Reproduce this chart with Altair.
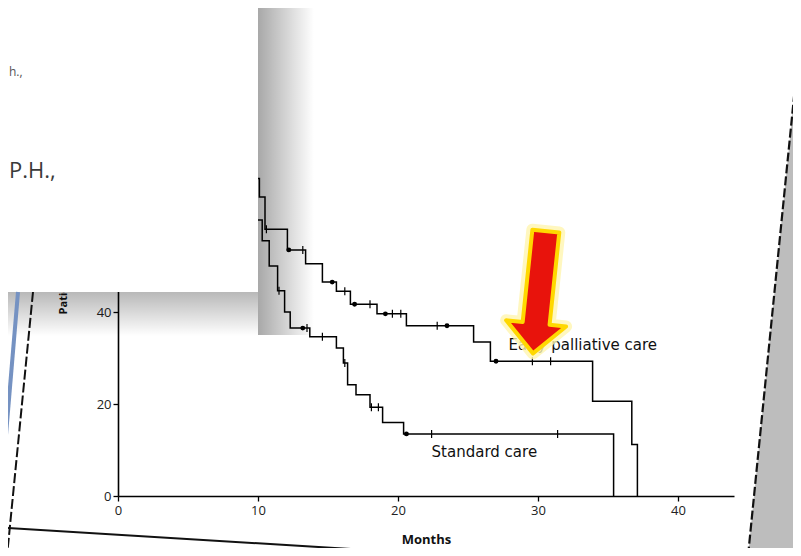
import altair as alt
import pandas as pd

# ---- Kaplan-Meier step points (month, % alive) ----
early_month = [0, 1.4, 2.3, 3.1, 4.0, 4.8, 5.7, 6.5, 7.4, 8.2, 9.0, 9.6, 10.1, 10.5,
               12.1, 13.4, 14.6, 15.6, 16.6, 18.5, 20.6, 25.4, 26.6, 33.9, 36.7, 37.1]
early_pct = [100, 98, 96, 93, 91, 88, 85, 82, 79, 75, 72, 69, 65, 58,
             53.5, 50.5, 46.5, 44.5, 41.7, 39.6, 37.0, 33.5, 29.3, 20.6, 11.2, 0]

standard_month = [0, 0.8, 1.6, 2.4, 3.2, 4.0, 4.8, 5.6, 6.4, 7.2, 8.0, 8.8, 9.5, 10.3,
                  10.8, 11.4, 11.9, 12.3, 13.7, 15.6, 16.1, 16.4, 17.0, 18.0, 18.9, 20.4, 35.4]
standard_pct = [100, 98, 95, 93, 90, 87, 84, 80, 76, 72, 68, 64, 60, 55.5,
                50, 44.6, 40, 36.5, 34.6, 32.2, 28.9, 24.2, 22.0, 19.3, 16.0, 13.5, 0]

# censored observations
early_tick_month = [10.6, 13.2, 16.2, 18.0, 19.6, 20.2, 22.8, 29.6, 30.9]
early_tick_pct = [58, 53.5, 44.5, 41.7, 39.6, 39.6, 37.0, 29.3, 29.3]
early_dot_month = [12.2, 15.3, 16.9, 19.1, 23.5, 27.0]
early_dot_pct = [53.5, 46.5, 41.7, 39.6, 37.0, 29.3]

standard_tick_month = [11.5, 13.5, 14.6, 16.2, 18.1, 18.6, 22.4, 31.4]
standard_tick_pct = [44.6, 36.5, 34.6, 28.9, 19.3, 19.3, 13.5, 13.5]
standard_dot_month = [13.2, 20.6]
standard_dot_pct = [36.5, 13.5]

group_labels = ["Early palliative care", "Standard care"]
label_month = [27.9, 22.4]
label_pct = [32.8, 9.6]

arrow_month = [30.1]
arrow_pct = [44.3]

x_ticks = [0, 10, 20, 30, 40]
y_ticks = [0, 20, 40, 60, 80, 100]

FONT = "Open Sans"
LABEL_FONT = "DejaVu Sans"

curves = pd.concat([
    pd.DataFrame({"month": early_month, "pct": early_pct, "group": group_labels[0]}),
    pd.DataFrame({"month": standard_month, "pct": standard_pct, "group": group_labels[1]}),
])
ticks = pd.DataFrame({"month": early_tick_month + standard_tick_month,
                      "pct": early_tick_pct + standard_tick_pct})
dots = pd.DataFrame({"month": early_dot_month + standard_dot_month,
                     "pct": early_dot_pct + standard_dot_pct})
labels = pd.DataFrame({"month": label_month, "pct": label_pct, "text": group_labels})
arrow = pd.DataFrame({"month": arrow_month, "pct": arrow_pct})
one = pd.DataFrame({"k": [0]})

xscale = alt.Scale(domain=[0, 44], nice=False)
yscale = alt.Scale(domain=[0, 100], nice=False)

xaxis = alt.Axis(values=x_ticks, title="Months", grid=False, labelFlush=False,
                 tickSize=5, tickWidth=1.3, tickColor="black", domainColor="black",
                 domainWidth=1.6, labelFontSize=13, labelColor="#222", labelFont=FONT,
                 titleFont=FONT, titleFontSize=13, titleFontWeight="bold",
                 titleColor="#111", titlePadding=16, labelPadding=3)
yaxis = alt.Axis(values=y_ticks, title="Patients Alive (%)", grid=False,
                 tickSize=5, tickWidth=1.3, tickColor="black", domainColor="black",
                 domainWidth=1.6, labelFontSize=13, labelColor="#222", labelFont=FONT,
                 titleFont=FONT, titleFontSize=11, titleFontWeight="bold",
                 titleColor="#111", titlePadding=20, labelPadding=2)

X = alt.X("month:Q", scale=xscale, axis=xaxis)
Y = alt.Y("pct:Q", scale=yscale, axis=yaxis)

line = alt.Chart(curves).mark_line(interpolate="step-after", color="black",
                                   strokeWidth=1.5).encode(x=X, y=Y, detail="group:N")
cens = alt.Chart(ticks).mark_tick(orient="vertical", size=8, thickness=1.2,
                                  color="black", opacity=1).encode(x="month:Q", y="pct:Q")
dot = alt.Chart(dots).mark_circle(size=24, color="black", opacity=1).encode(
    x="month:Q", y="pct:Q")
txt = alt.Chart(labels).mark_text(align="left", baseline="middle", font=LABEL_FONT,
                                  fontSize=15, color="#111").encode(
    x="month:Q", y="pct:Q", text="text:N")

ARROW = "M -0.22 -1 L 0.22 -1 L 0.22 0.51 L 0.49 0.51 L 0 1 L -0.49 0.51 L -0.22 0.51 Z"
arrow_glow = alt.Chart(arrow).mark_point(shape=ARROW, size=15129, angle=6, filled=True,
                                         fill="#ffef80", stroke="#fff6b0", strokeWidth=12,
                                         strokeJoin="round", opacity=0.8).encode(
    x="month:Q", y="pct:Q")
arrow_main = alt.Chart(arrow).mark_point(shape=ARROW, size=15129, angle=6, filled=True,
                                         fill="#e8130c", stroke="#ffd800", strokeWidth=4,
                                         strokeJoin="round", opacity=1).encode(
    x="month:Q", y="pct:Q")

# ---- photo / overlay decorations (pixel positions, plot origin at page 118,36) ----
def grad(x2, y2, a):
    return alt.Gradient(gradient="linear", x1=0, y1=0, x2=x2, y2=y2,
                        stops=[alt.GradientStop(color=f"rgba(0,0,0,{a})", offset=0),
                               alt.GradientStop(color="rgba(0,0,0,0)", offset=1)])

shadow_right = alt.Chart(one).mark_rect(fill=grad(1, 0, 0.34)).encode(
    x=alt.value(140), x2=alt.value(196), y=alt.value(-40), y2=alt.value(299))
shadow_bottom = alt.Chart(one).mark_rect(fill=grad(0, 1, 0.28)).encode(
    x=alt.value(-120), x2=alt.value(140), y=alt.value(256), y2=alt.value(300))
box = alt.Chart(one).mark_rect(fill="white").encode(
    x=alt.value(-120), x2=alt.value(140), y=alt.value(-40), y2=alt.value(256))
box_t1 = alt.Chart(one).mark_text(text="P.H.,", align="left", baseline="alphabetic",
                                  font=FONT, fontSize=22, color="#3a3a3a").encode(
    x=alt.value(-109), y=alt.value(142))
box_t2 = alt.Chart(one).mark_text(text="h.,", align="left", baseline="alphabetic",
                                  font=FONT, fontSize=12, color="#555").encode(
    x=alt.value(-109), y=alt.value(40))

RIGHT = "M -0.008 -0.996 L 0.24 -0.996 L 0.24 1 L -0.208 1 Z"
right_gray = alt.Chart(one).mark_point(shape=RIGHT, size=250000, filled=True,
                                       fill="#bdbdbd", strokeWidth=0, opacity=1).encode(
    x=alt.value(682), y=alt.value(270))
right_line = alt.Chart(one).mark_rule(color="#111", strokeWidth=2.2,
                                      strokeDash=[9, 3]).encode(
    x=alt.value(680), y=alt.value(21), x2=alt.value(630), y2=alt.value(520))
left_blue = alt.Chart(one).mark_rule(color="#7592c2", strokeWidth=4).encode(
    x=alt.value(-100), y=alt.value(256), x2=alt.value(-120), y2=alt.value(494))
left_line = alt.Chart(one).mark_rule(color="#111", strokeWidth=2,
                                     strokeDash=[10, 3]).encode(
    x=alt.value(-85), y=alt.value(256), x2=alt.value(-111), y2=alt.value(520))
bottom_line = alt.Chart(one).mark_rule(color="#111", strokeWidth=2).encode(
    x=alt.value(-110), y=alt.value(492), x2=alt.value(282), y2=alt.value(516))

chart = alt.layer(
    line, cens, dot, txt, arrow_glow, arrow_main,
    shadow_right, shadow_bottom, box, box_t1, box_t2,
    right_gray, right_line, left_blue, left_line, bottom_line,
).properties(
    width=616, height=460,
    padding={"left": 110, "top": 28, "right": 59, "bottom": 52},
    autosize=alt.AutoSizeParams(type="none"),
    background="white",
).configure_view(stroke=None)

chart.save("out.html", embed_options={"renderer": "svg", "actions": False})
